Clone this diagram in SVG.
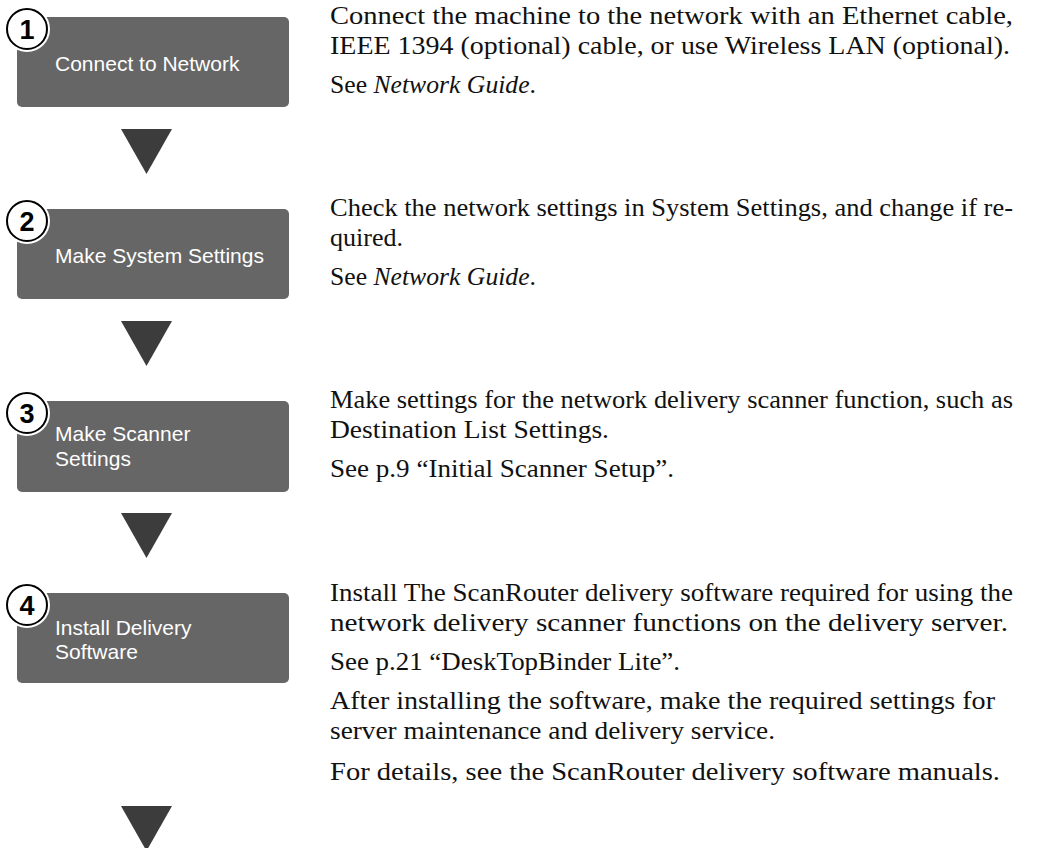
<svg xmlns="http://www.w3.org/2000/svg" width="1037" height="848" viewBox="0 0 1037 848">
<style>
.box{fill:#666666}
.bt{fill:#ffffff;font-family:"Liberation Sans",Arial,sans-serif;font-size:21px}
.num{fill:#000000;font-family:"Liberation Sans",Arial,sans-serif;font-size:27px;font-weight:bold;text-anchor:middle}
.halo{fill:#ffffff;stroke:#ffffff;stroke-width:6}
.ring{fill:#ffffff;stroke:#000000;stroke-width:2}
.tri{fill:#3c3c3c}
.tx{fill:#111111;font-family:"Liberation Serif","Times New Roman",serif;font-size:25px}
.it{font-style:italic}
</style>
<g id="connectors">
<polygon class="tri" points="121,129 172,129 146.5,174"/>
<polygon class="tri" points="121,321 172,321 146.5,366"/>
<polygon class="tri" points="121,513 172,513 146.5,558"/>
<polygon class="tri" points="121,806 172,806 146.5,851"/>
</g>
<g id="step1">
<rect class="box" x="17" y="17" width="272" height="90" rx="5"/>
<circle class="halo" cx="27" cy="29" r="20"/>
<circle class="ring" cx="27" cy="29" r="20"/>
<text class="num" x="27" y="39">1</text>
<text class="bt" x="55" y="71">Connect to Network</text>
</g>
<g id="step2">
<rect class="box" x="17" y="209" width="272" height="90" rx="5"/>
<circle class="halo" cx="27" cy="221" r="20"/>
<circle class="ring" cx="27" cy="221" r="20"/>
<text class="num" x="27" y="231">2</text>
<text class="bt" x="55" y="263">Make System Settings</text>
</g>
<g id="step3">
<rect class="box" x="17" y="401" width="272" height="91" rx="5"/>
<circle class="halo" cx="27" cy="413" r="20"/>
<circle class="ring" cx="27" cy="413" r="20"/>
<text class="num" x="27" y="423">3</text>
<text class="bt" x="55" y="441">Make Scanner</text>
<text class="bt" x="55" y="466">Settings</text>
</g>
<g id="step4">
<rect class="box" x="17" y="593" width="272" height="90" rx="5"/>
<circle class="halo" cx="27" cy="605" r="20"/>
<circle class="ring" cx="27" cy="605" r="20"/>
<text class="num" x="27" y="615">4</text>
<text class="bt" x="55" y="635">Install Delivery</text>
<text class="bt" x="55" y="659">Software</text>
</g>
<g id="desc1">
<text class="tx" x="330" y="24" textLength="683" lengthAdjust="spacingAndGlyphs">Connect the machine to the network with an Ethernet cable,</text>
<text class="tx" x="330" y="54" textLength="680" lengthAdjust="spacingAndGlyphs">IEEE 1394 (optional) cable, or use Wireless LAN (optional).</text>
<text class="tx" x="330" y="93" textLength="206" lengthAdjust="spacingAndGlyphs">See <tspan class="it">Network Guide</tspan>.</text>
</g>
<g id="desc2">
<text class="tx" x="330" y="216" textLength="683" lengthAdjust="spacingAndGlyphs">Check the network settings in System Settings, and change if re-</text>
<text class="tx" x="330" y="246" textLength="73" lengthAdjust="spacingAndGlyphs">quired.</text>
<text class="tx" x="330" y="285" textLength="206" lengthAdjust="spacingAndGlyphs">See <tspan class="it">Network Guide</tspan>.</text>
</g>
<g id="desc3">
<text class="tx" x="330" y="408" textLength="683" lengthAdjust="spacingAndGlyphs">Make settings for the network delivery scanner function, such as</text>
<text class="tx" x="330" y="438" textLength="279" lengthAdjust="spacingAndGlyphs">Destination List Settings.</text>
<text class="tx" x="330" y="477" textLength="344" lengthAdjust="spacingAndGlyphs">See p.9 “Initial Scanner Setup”.</text>
</g>
<g id="desc4">
<text class="tx" x="330" y="601" textLength="683" lengthAdjust="spacingAndGlyphs">Install The ScanRouter delivery software required for using the</text>
<text class="tx" x="330" y="631" textLength="678" lengthAdjust="spacingAndGlyphs">network delivery scanner functions on the delivery server.</text>
<text class="tx" x="330" y="670" textLength="350" lengthAdjust="spacingAndGlyphs">See p.21 “DeskTopBinder Lite”.</text>
<text class="tx" x="330" y="709" textLength="665" lengthAdjust="spacingAndGlyphs">After installing the software, make the required settings for</text>
<text class="tx" x="330" y="739" textLength="445" lengthAdjust="spacingAndGlyphs">server maintenance and delivery service.</text>
<text class="tx" x="330" y="780" textLength="670" lengthAdjust="spacingAndGlyphs">For details, see the ScanRouter delivery software manuals.</text>
</g>
</svg>
